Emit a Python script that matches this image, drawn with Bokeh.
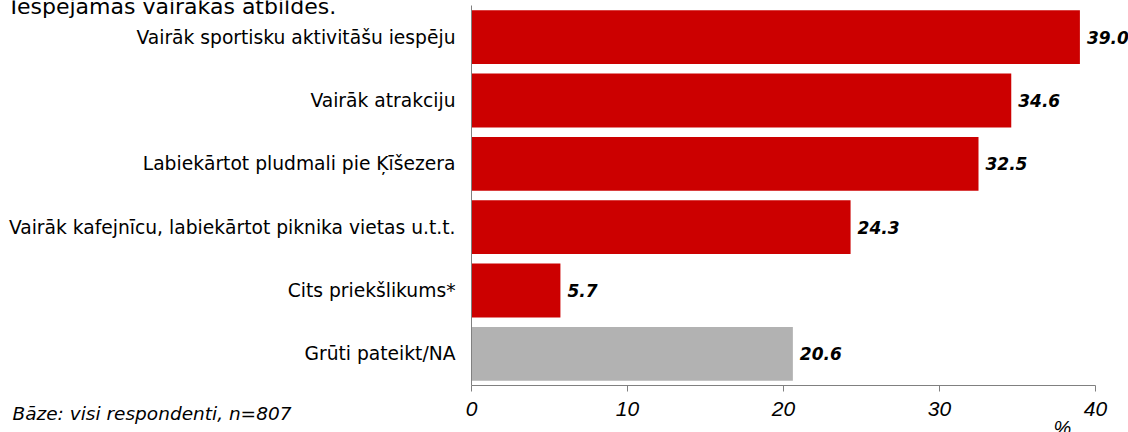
from bokeh.plotting import figure
from bokeh.models import ColumnDataSource, Range1d, Label, LabelSet, FixedTicker, LinearAxis
from bokeh.core.properties import value
from bokeh.embed import file_html
from bokeh.resources import INLINE

categories = [
    "Vairāk sportisku aktivitāšu iespēju",
    "Vairāk atrakciju",
    "Labiekārtot pludmali pie Ķīšezera",
    "Vairāk kafejnīcu, labiekārtot piknika vietas u.t.t.",
    "Cits priekšlikums*",
    "Grūti pateikt/NA",
]
values = [39.0, 34.6, 32.5, 24.3, 5.7, 20.6]
colors = ["#CC0000", "#CC0000", "#CC0000", "#CC0000", "#CC0000", "#B2B2B2"]
value_labels = ["39.0", "34.6", "32.5", "24.3", "5.7", "20.6"]
x_ticks = [0, 10, 20, 30, 40]
title_text = "Iespējamas vairākas atbildes."
base_text = "Bāze: visi respondenti, n=807"
unit_text = "%"

FONT = "DejaVu Sans"
TICK_FONT = "Liberation Sans"
W, H = 1128, 432
X_MAX = 40
AX_LEFT, AX_RIGHT = 471, 1095      # page px of x=0 and x=40
PLOT_TOP, PLOT_BOTTOM = 5, 385     # page px of category band
px_per_x = (AX_RIGHT - AX_LEFT) / X_MAX
n = len(categories)
px_per_cat = (PLOT_BOTTOM - PLOT_TOP) / n

# categories top-to-bottom -> numeric slots n-1 .. 0
ypos = [n - 1 - i for i in range(n)]

src = ColumnDataSource(dict(y=ypos, val=values, color=colors, lab=value_labels))

p = figure(
    width=W, height=H,
    x_range=Range1d(-AX_LEFT / px_per_x, (W - AX_LEFT) / px_per_x),
    y_range=Range1d(-0.5 - (H - PLOT_BOTTOM) / px_per_cat, n - 0.5 + PLOT_TOP / px_per_cat),
    x_axis_location=None, y_axis_location=None,
    output_backend="svg", toolbar_location=None,
    min_border=0, min_border_left=0, min_border_right=0, min_border_top=0, min_border_bottom=0,
)
p.outline_line_color = None
p.background_fill_color = "white"
p.border_fill_color = "white"
p.grid.visible = False

p.hbar(y="y", right="val", left=0, height=0.85, color="color", line_color=None, source=src)
p.add_layout(LabelSet(x="val", y="y", text="lab", x_offset=7, text_baseline="middle",
                      text_align="left", text_font=value(FONT), text_font_size="17px",
                      text_font_style="bold italic", text_color="black", source=src))

# x axis (fixed inside the frame, so it takes no panel space)
xa = LinearAxis(fixed_location=-0.5)
xa.ticker = FixedTicker(ticks=x_ticks)
xa.bounds = (0, X_MAX)
xa.axis_line_color = "#808080"
xa.major_tick_line_color = "#808080"
xa.major_tick_out = 6
xa.major_tick_in = 0
xa.minor_tick_line_color = None
xa.major_label_standoff = 10
xa.major_label_text_font = TICK_FONT
xa.major_label_text_font_size = "21px"
xa.major_label_text_font_style = "italic"
xa.major_label_text_color = "black"
p.add_layout(xa, "below")

# y axis with category names
ya = LinearAxis(fixed_location=0)
ya.ticker = FixedTicker(ticks=ypos)
ya.major_label_overrides = {yv: c for yv, c in zip(ypos, categories)}
ya.bounds = (-0.5, n - 0.5)
ya.axis_line_color = "#808080"
ya.major_tick_line_color = None
ya.major_tick_out = 0
ya.major_tick_in = 0
ya.minor_tick_line_color = None
ya.major_label_standoff = 16
ya.major_label_text_font = FONT
ya.major_label_text_font_size = "18.7px"
ya.major_label_text_color = "black"
p.add_layout(ya, "left")

# free texts (screen units: x from left, y from bottom of the frame = canvas)
p.add_layout(Label(x=10, y=H - 6, x_units="screen", y_units="screen", text=title_text,
                   text_font=FONT, text_font_size="22px", text_color="black",
                   text_baseline="alphabetic"))
p.add_layout(Label(x=12, y=H - 413, x_units="screen", y_units="screen", text=base_text,
                   text_font=FONT, text_font_size="18.5px", text_font_style="italic",
                   text_color="black", text_baseline="middle"))
p.add_layout(Label(x=1053, y=H - 416, x_units="screen", y_units="screen", text=unit_text,
                   text_font=TICK_FONT, text_font_size="20px", text_font_style="italic",
                   text_color="black", text_baseline="top"))

open("out.html", "w").write(file_html(p, INLINE))
